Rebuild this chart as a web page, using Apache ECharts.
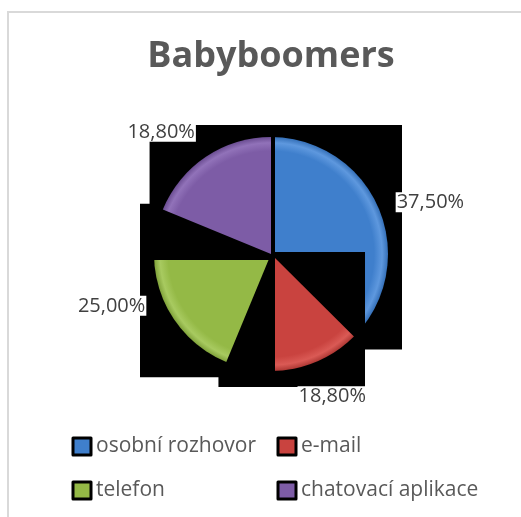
<!DOCTYPE html>
<html>
<head>
<meta charset="utf-8">
<script src="https://cdn.jsdelivr.net/npm/echarts@6/dist/echarts.min.js"></script>
<style>html,body{margin:0;padding:0;background:#fff;}#c{width:521px;height:517px;}</style>
</head>
<body>
<div id="c"></div>
<script>
const categories = ['osobní rozhovor', 'e-mail', 'telefon', 'chatovací aplikace'];
const values = [37.5, 18.8, 25.0, 18.8];
const valueLabels = ['37,50%', '18,80%', '25,00%', '18,80%'];
const colors = ['#3F7FCC', '#C9433F', '#94B946', '#7D5CA6'];
const rimColors = ['#5E98DE', '#DA5A55', '#A8CA60', '#9172B9'];
const edgeColors = ['#3570B8', '#AE3834', '#80A23A', '#6B4D92'];
const legendLeftCol = [categories[0], categories[2]];
const legendRightCol = [categories[1], categories[3]];

const FONT = '"Open Sans", "DejaVu Sans", sans-serif';
const total = values.reduce((a, b) => a + b, 0);
const cum = [];
values.reduce((acc, v, i) => { cum[i] = acc; return acc + v; }, 0);

const CX = 271, CY = 254, R = 117;

function sectorBBox(cx, cy, r, s, e) {
  const xs = [cx, cx + r * Math.cos(s), cx + r * Math.cos(e)];
  const ys = [cy, cy + r * Math.sin(s), cy + r * Math.sin(e)];
  for (let k = -4; k <= 8; k++) {
    const a = k * Math.PI / 2;
    if (a > s && a < e) { xs.push(cx + r * Math.cos(a)); ys.push(cy + r * Math.sin(a)); }
  }
  const x0 = Math.min.apply(null, xs), x1 = Math.max.apply(null, xs);
  const y0 = Math.min.apply(null, ys), y1 = Math.max.apply(null, ys);
  return { x: x0, y: y0, width: x1 - x0, height: y1 - y0 };
}

function renderItem(params, api) {
  const i = params.dataIndex;
  const v = api.value(0);
  const s = -Math.PI / 2 + 2 * Math.PI * cum[i] / total;
  const e = s + 2 * Math.PI * v / total;
  const bb = sectorBBox(CX, CY + 2, R + 10, s, e);
  const mid = (s + e) / 2;
  const cs = Math.cos(mid), sn = Math.sin(mid);
  const lr = R + 18;
  const lx = CX + lr * cs, ly = CY + lr * sn;
  const align = cs > 0.1 ? 'left' : (cs < -0.1 ? 'right' : 'center');
  const valign = sn < -0.5 ? 'bottom' : (sn > 0.5 ? 'top' : 'middle');
  const grad = new echarts.graphic.RadialGradient(CX, CY, R, [
    { offset: 0, color: colors[i] },
    { offset: 0.88, color: colors[i] },
    { offset: 0.95, color: rimColors[i] },
    { offset: 1, color: edgeColors[i] }
  ], true);
  return {
    type: 'group',
    children: [
      { type: 'rect', shape: { x: bb.x - 4, y: bb.y - 4, width: bb.width + 8, height: bb.height + 8 }, style: { fill: '#000' } },
      { type: 'sector', shape: { cx: CX, cy: CY, r0: 0, r: R, startAngle: s, endAngle: e, clockwise: true },
        style: { fill: grad } },
      { type: 'text', x: lx, y: ly,
        style: { text: valueLabels[i], fill: '#404040', font: '20px ' + FONT,
                 align: align, verticalAlign: valign, textAlign: align, textVerticalAlign: valign,
                 backgroundColor: '#fff', padding: [0, 1] } }
    ]
  };
}

const chart = echarts.init(document.getElementById('c'), null, { renderer: 'canvas' });
const legendBase = {
  orient: 'vertical', icon: 'rect', itemWidth: 18, itemHeight: 17, itemGap: 23, top: 436, padding: 0,
  itemStyle: { borderColor: '#000', borderWidth: 3 },
  textStyle: { fontFamily: FONT, fontSize: 21, color: '#595959', lineHeight: 21 },
  selectedMode: false
};
chart.setOption({
  animation: false,
  backgroundColor: '#fff',
  title: {
    text: 'Babyboomers', left: 266, top: 34, textAlign: 'center',
    textStyle: { fontFamily: FONT, fontWeight: 'bold', fontSize: 36, color: '#595959' }
  },
  legend: [
    Object.assign({}, legendBase, { left: 71.5, data: legendLeftCol }),
    Object.assign({}, legendBase, { left: 276.5, data: legendRightCol })
  ],
  graphic: [
    { type: 'line', shape: { x1: 8, y1: 11, x2: 8, y2: 517 }, style: { stroke: '#d9d9d9', lineWidth: 2 }, silent: true },
    { type: 'line', shape: { x1: 7, y1: 12, x2: 521, y2: 12 }, style: { stroke: '#d9d9d9', lineWidth: 2 }, silent: true }
  ],
  series: [
    {
      type: 'pie', radius: [0, 0], center: [CX, CY], silent: true,
      label: { show: false }, labelLine: { show: false },
      data: categories.map((n, i) => ({ name: n, value: values[i], itemStyle: { color: colors[i] } }))
    },
    {
      type: 'custom', coordinateSystem: 'none', renderItem: renderItem,
      data: values.map(v => [v])
    }
  ]
});
</script>
</body>
</html>
